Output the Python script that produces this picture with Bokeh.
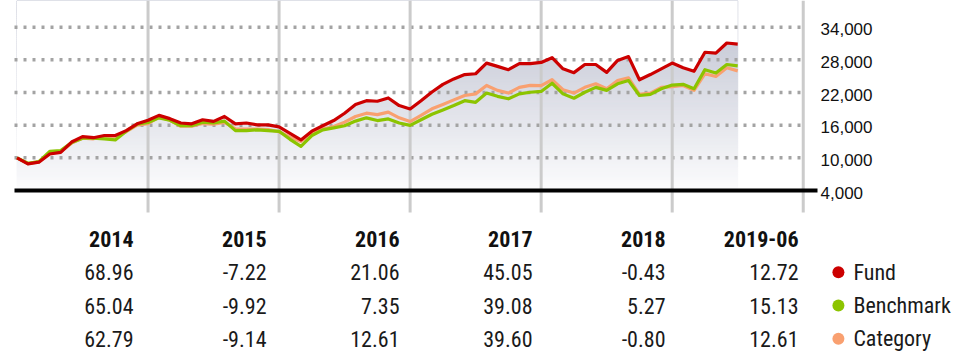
import numpy as np
from bokeh.plotting import figure
from bokeh.models import Range1d
from bokeh.core.properties import value
from bokeh.embed import file_html
from bokeh.resources import INLINE

# ---- data: growth of 10,000 (month-end values, Dec 2013 .. Jun 2019) ----
fund = [10000, 8900, 9200, 10700, 11000, 12900, 13900, 13700, 14100, 14100, 15000, 16250,
        16900, 17800, 17200, 16400, 16250, 17000, 16700, 17600, 16250, 16400, 16050, 16050,
        15680, 14500, 13300, 14900, 15900, 16850, 18200, 19800, 20500, 20400, 21000, 19600,
        18980, 20500, 22100, 23500, 24500, 25300, 25450, 27400, 26800, 26200, 27300, 27300,
        27530, 28400, 26350, 25650, 27150, 27150, 25700, 27900, 28600, 24350, 25300, 26350,
        27410, 26550, 25900, 29400, 29250, 31100, 30900]
benchmark = [10000, 9000, 9300, 11200, 11350, 12800, 13600, 13600, 13500, 13300, 14900, 16200,
             16500, 17350, 16900, 15900, 15900, 16550, 16400, 16750, 15000, 15000, 15150, 15000,
             14870, 13400, 12100, 14100, 15150, 15500, 15900, 16750, 17350, 16850, 17150, 16400,
             15960, 17000, 18000, 18800, 19600, 20500, 20200, 21900, 21300, 20850, 21750, 22050,
             22200, 23700, 21750, 20950, 22050, 22950, 22400, 23600, 24200, 21450, 21650, 22700,
             23370, 23500, 22700, 26200, 25600, 27150, 26900]
category = [10000, 8950, 9250, 10900, 11100, 12700, 13600, 13500, 13900, 13900, 14800, 16000,
            16280, 17500, 16900, 15800, 15800, 16300, 16200, 16500, 15300, 15300, 15300, 15200,
            14790, 13800, 13000, 14500, 15300, 15750, 16550, 17600, 18200, 17950, 18400, 17350,
            16660, 17800, 19000, 19800, 20650, 21450, 21750, 23300, 22400, 21900, 22950, 23300,
            23250, 24350, 22500, 21900, 22950, 23600, 22700, 24200, 24700, 21650, 21900, 22950,
            23070, 23300, 22400, 25450, 24950, 26550, 25980]

years = ["2014", "2015", "2016", "2017", "2018", "2019-06"]
fund_ret = [68.96, -7.22, 21.06, 45.05, -0.43, 12.72]
bench_ret = [65.04, -9.92, 7.35, 39.08, 5.27, 15.13]
cat_ret = [62.79, -9.14, 12.61, 39.60, -0.80, 12.61]

y_ticks = [4000, 10000, 16000, 22000, 28000, 34000]
series_names = ["Fund", "Benchmark", "Category"]
series_colors = ["#cc0000", "#8cc400", "#f9a070"]

TABLE_FONT = "Roboto Condensed"
AXIS_FONT = "Liberation Sans"

months = np.arange(len(fund))              # 0 = Dec 2013 month-end
year_ends = [12 * (i + 1) for i in range(len(years))]

# ---------------- layout constants (pixels) ----------------
W, H = 956, 361
PX_M0, PX_PER_M = 16.5, 10.92               # chart x: month 0 position, px per month
PX_BASE, PX_PER_VAL = 190.0, 163.3 / 30000  # chart y: baseline px, px per unit
CHART_LEFT, CHART_RIGHT, SEP_BOTTOM = 14, 817, 212
LABEL_X = 820
COL0, COL_STEP = 133, 133                   # table: right edge of first column, step
ROW0, ROW_STEP = 238.3, 33.35               # table: header row centre, row step


def xm(px):
    return (px - PX_M0) / PX_PER_M


def yv(py):
    return y_ticks[0] + (PX_BASE - py) / PX_PER_VAL


p = figure(width=W, height=H, output_backend="svg", toolbar_location=None,
           x_range=Range1d(xm(0), xm(W)), y_range=Range1d(yv(H), yv(0)),
           x_axis_location=None, y_axis_location=None,
           min_border_left=0, min_border_right=0, min_border_top=0, min_border_bottom=0)
p.outline_line_color = None
p.grid.visible = False
p.extra_x_ranges = {"tx": Range1d(-COL0 / COL_STEP, (W - COL0) / COL_STEP)}
p.extra_y_ranges = {"ty": Range1d((H - ROW0) / ROW_STEP, -ROW0 / ROW_STEP)}

# vertical gradient under the fund line
y_lo, y_hi = y_ticks[0], yv(0)
n_bands = 90
edges = np.linspace(y_lo, y_hi, n_bands + 1)
mid = (edges[:-1] + edges[1:]) / 2
frac = (mid - y_lo) / (y_ticks[-1] - y_lo)
c_bot = np.array([252, 252, 253])
c_top = np.array([197, 200, 213])
band_colors = ["#%02x%02x%02x" % tuple(int(round(v)) for v in np.clip(c_bot + (c_top - c_bot) * f, 0, 255))
               for f in frac]
p.quad(left=months[0], right=months[-1], bottom=edges[:-1], top=edges[1:],
       fill_color=band_colors, line_color=band_colors, line_width=1)
# white mask above the fund line
p.varea(x=months, y1=fund, y2=y_hi, fill_color="white")

# dotted horizontal grid
p.segment(x0=xm(CHART_LEFT), x1=year_ends[-1], y0=y_ticks[1:], y1=y_ticks[1:],
          line_color="#a3a3a3", line_width=3.5, line_dash="3 6")
# year separators
p.segment(x0=year_ends, x1=year_ends, y0=yv(SEP_BOTTOM), y1=y_hi,
          line_color="#cbcbcb", line_width=3)

for vals, col in [(category, series_colors[2]), (benchmark, series_colors[1]), (fund, series_colors[0])]:
    p.line(months, vals, line_color=col, line_width=3.2, line_join="round")

# baseline
p.segment(x0=xm(CHART_LEFT), x1=xm(CHART_RIGHT), y0=y_ticks[0], y1=y_ticks[0],
          line_color="black", line_width=4)

# value-axis labels
p.text(x=xm(LABEL_X), y=y_ticks, text=[f"{v:,}" for v in y_ticks], text_align="left",
       text_baseline="middle", y_offset=2, text_font=value(AXIS_FONT), text_font_size="17px",
       text_color="#111111")

# ---------------- table ----------------
cols = np.arange(len(years))
tk = dict(x_range_name="tx", y_range_name="ty")
p.text(x=cols, y=0, text=years, text_align="right", text_baseline="middle",
       text_font=value(TABLE_FONT), text_font_style="bold", text_font_size="22px",
       text_color="#111111", **tk)
for r, vals in enumerate([fund_ret, bench_ret, cat_ret], start=1):
    p.text(x=cols, y=r, text=[f"{v:.2f}" for v in vals], text_align="right",
           text_baseline="middle", text_font=value(TABLE_FONT), text_font_size="22px",
           text_color="#1a1a1a", **tk)

legend_x = cols[-1] + 0.30
rows = [1, 2, 3]
p.scatter(x=legend_x, y=rows, size=12, fill_color=series_colors, line_color=None, **tk)
p.text(x=legend_x, y=rows, text=series_names, x_offset=15, text_align="left",
       text_baseline="middle", text_font=value(TABLE_FONT), text_font_size="22px",
       text_color="#1a1a1a", **tk)

open("out.html", "w").write(file_html(p, INLINE))
